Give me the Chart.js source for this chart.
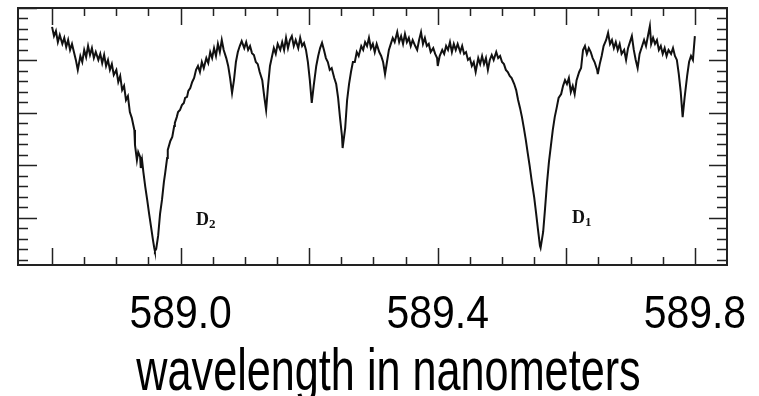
<!DOCTYPE html>
<html lang="en">
<head>
  <meta charset="UTF-8" />
  <title>Sodium D lines</title>
  <script src="https://cdn.jsdelivr.net/npm/chart.js"></script>
  <style>
    html, body { margin: 0; padding: 0; background: #fff; }
    #spectrum { display: block; }
  </style>
</head>
<body>
  <canvas id="spectrum" width="759" height="396"></canvas>

  <script>
    // wavelength (nm) and relative intensity
    const wavelengthNm = [
      588.800, 588.803, 588.806, 588.809, 588.812, 588.816, 588.819, 588.822, 588.825, 588.828,
      588.831, 588.834, 588.837, 588.840, 588.844, 588.847, 588.850, 588.853, 588.856, 588.859,
      588.862, 588.865, 588.868, 588.872, 588.875, 588.878, 588.881, 588.884, 588.887, 588.890,
      588.893, 588.896, 588.900, 588.903, 588.906, 588.909, 588.912, 588.915, 588.918, 588.921,
      588.924, 588.928, 588.929, 588.932, 588.934, 588.937, 588.938, 588.940, 588.942, 588.945,
      588.948, 588.951, 588.954, 588.957, 588.959, 588.960, 588.962, 588.965, 588.968, 588.971,
      588.974, 588.976, 588.979, 588.980, 588.984, 588.987, 588.990, 588.991, 588.994, 588.996,
      588.999, 589.002, 589.005, 589.007, 589.010, 589.012, 589.015, 589.018, 589.021, 589.024,
      589.027, 589.030, 589.033, 589.036, 589.040, 589.043, 589.046, 589.049, 589.052, 589.055,
      589.058, 589.061, 589.064, 589.067, 589.071, 589.074, 589.077, 589.080, 589.083, 589.086,
      589.089, 589.092, 589.095, 589.099, 589.102, 589.105, 589.108, 589.111, 589.114, 589.117,
      589.120, 589.123, 589.127, 589.130, 589.133, 589.136, 589.139, 589.142, 589.145, 589.148,
      589.151, 589.155, 589.158, 589.161, 589.164, 589.167, 589.170, 589.173, 589.176, 589.179,
      589.183, 589.186, 589.189, 589.192, 589.195, 589.198, 589.201, 589.204, 589.207, 589.211,
      589.214, 589.217, 589.220, 589.223, 589.226, 589.229, 589.232, 589.235, 589.239, 589.242,
      589.245, 589.248, 589.251, 589.252, 589.256, 589.259, 589.262, 589.265, 589.268, 589.271,
      589.274, 589.277, 589.281, 589.284, 589.287, 589.290, 589.293, 589.296, 589.299, 589.302,
      589.305, 589.309, 589.312, 589.315, 589.318, 589.321, 589.324, 589.327, 589.330, 589.333,
      589.337, 589.340, 589.343, 589.346, 589.349, 589.352, 589.355, 589.358, 589.361, 589.365,
      589.368, 589.371, 589.374, 589.377, 589.380, 589.383, 589.386, 589.389, 589.393, 589.396,
      589.399, 589.400, 589.403, 589.407, 589.410, 589.413, 589.416, 589.419, 589.422, 589.425,
      589.428, 589.431, 589.435, 589.438, 589.441, 589.444, 589.447, 589.450, 589.453, 589.456,
      589.459, 589.463, 589.466, 589.469, 589.472, 589.475, 589.478, 589.481, 589.484, 589.487,
      589.491, 589.494, 589.497, 589.500, 589.503, 589.506, 589.509, 589.512, 589.515, 589.519,
      589.522, 589.525, 589.528, 589.531, 589.534, 589.537, 589.540, 589.543, 589.546, 589.550,
      589.553, 589.556, 589.559, 589.560, 589.564, 589.567, 589.570, 589.573, 589.576, 589.579,
      589.582, 589.585, 589.588, 589.592, 589.595, 589.598, 589.601, 589.604, 589.607, 589.610,
      589.613, 589.616, 589.620, 589.623, 589.626, 589.629, 589.632, 589.635, 589.638, 589.641,
      589.644, 589.648, 589.649, 589.652, 589.655, 589.658, 589.662, 589.665, 589.668, 589.671,
      589.674, 589.677, 589.680, 589.683, 589.686, 589.690, 589.693, 589.696, 589.699, 589.702,
      589.705, 589.708, 589.711, 589.714, 589.718, 589.721, 589.724, 589.727, 589.730, 589.732,
      589.735, 589.738, 589.741, 589.744, 589.747, 589.750, 589.753, 589.756, 589.759, 589.763,
      589.766, 589.769, 589.772, 589.775, 589.778, 589.781, 589.784, 589.788, 589.791, 589.794,
      589.797, 589.800
    ];

    const relIntensity = [
      0.928, 0.893, 0.912, 0.870, 0.897, 0.863, 0.886, 0.851, 0.878, 0.840,
      0.863, 0.832, 0.802, 0.764, 0.817, 0.794, 0.840, 0.813, 0.855, 0.821,
      0.847, 0.809, 0.832, 0.802, 0.825, 0.790, 0.821, 0.779, 0.802, 0.764,
      0.786, 0.745, 0.764, 0.718, 0.741, 0.687, 0.703, 0.649, 0.664, 0.603,
      0.581, 0.535, 0.478, 0.420, 0.451, 0.432, 0.390, 0.420, 0.375, 0.318,
      0.268, 0.215, 0.165, 0.115, 0.085, 0.073, 0.081, 0.131, 0.215, 0.268,
      0.337, 0.371, 0.428, 0.459, 0.493, 0.508, 0.550, 0.562, 0.584, 0.603,
      0.611, 0.630, 0.638, 0.657, 0.661, 0.684, 0.695, 0.718, 0.733, 0.764,
      0.779, 0.756, 0.794, 0.771, 0.809, 0.790, 0.832, 0.809, 0.847, 0.817,
      0.863, 0.832, 0.878, 0.840, 0.809, 0.779, 0.733, 0.676, 0.725, 0.794,
      0.832, 0.855, 0.874, 0.847, 0.870, 0.840, 0.855, 0.828, 0.821, 0.794,
      0.786, 0.756, 0.725, 0.664, 0.611, 0.703, 0.779, 0.813, 0.847, 0.825,
      0.863, 0.840, 0.870, 0.840, 0.886, 0.847, 0.878, 0.893, 0.855, 0.878,
      0.847, 0.886, 0.855, 0.867, 0.840, 0.794, 0.725, 0.638, 0.703, 0.779,
      0.817, 0.847, 0.867, 0.840, 0.809, 0.794, 0.764, 0.771, 0.733, 0.710,
      0.657, 0.581, 0.512, 0.466, 0.542, 0.649, 0.710, 0.756, 0.794, 0.794,
      0.832, 0.817, 0.855, 0.840, 0.870, 0.855, 0.886, 0.847, 0.863, 0.832,
      0.863, 0.832, 0.817, 0.794, 0.748, 0.794, 0.840, 0.863, 0.886, 0.870,
      0.908, 0.870, 0.893, 0.863, 0.901, 0.870, 0.886, 0.855, 0.878, 0.855,
      0.840, 0.878, 0.908, 0.863, 0.886, 0.855, 0.863, 0.832, 0.847, 0.825,
      0.809, 0.779, 0.817, 0.840, 0.825, 0.855, 0.840, 0.870, 0.832, 0.863,
      0.840, 0.863, 0.832, 0.855, 0.825, 0.832, 0.802, 0.809, 0.779, 0.794,
      0.756, 0.809, 0.786, 0.817, 0.786, 0.809, 0.764, 0.802, 0.821, 0.802,
      0.832, 0.809, 0.817, 0.794, 0.786, 0.764, 0.756, 0.741, 0.733, 0.710,
      0.687, 0.649, 0.619, 0.584, 0.542, 0.497, 0.447, 0.398, 0.344, 0.279,
      0.218, 0.154, 0.093, 0.085, 0.146, 0.237, 0.333, 0.413, 0.474, 0.535,
      0.584, 0.619, 0.657, 0.672, 0.703, 0.725, 0.710, 0.733, 0.680, 0.703,
      0.672, 0.725, 0.756, 0.771, 0.840, 0.855, 0.825, 0.847, 0.832, 0.809,
      0.794, 0.764, 0.748, 0.786, 0.817, 0.855, 0.878, 0.905, 0.863, 0.878,
      0.847, 0.870, 0.840, 0.863, 0.825, 0.840, 0.802, 0.847, 0.870, 0.893,
      0.840, 0.802, 0.771, 0.825, 0.855, 0.878, 0.855, 0.893, 0.931, 0.863,
      0.886, 0.863, 0.878, 0.840, 0.855, 0.825, 0.847, 0.817, 0.840, 0.825,
      0.847, 0.817, 0.802, 0.748, 0.680, 0.584, 0.657, 0.741, 0.794, 0.817,
      0.802, 0.893
    ];

    // axis ticks
    const xLabelTicks = [589.0, 589.4, 589.8];
    const xMajorTicks = [588.8, 589.0, 589.2, 589.4, 589.6, 589.8];
    const xMinorTicks = [588.85, 588.9, 588.95, 589.05, 589.1, 589.15, 589.25, 589.3,
                         589.35, 589.45, 589.5, 589.55, 589.65, 589.7, 589.75];
    const yMajorTicks = [0.2, 0.4, 0.6, 0.8, 1.0];
    const yMinorTicks = [0.04, 0.08, 0.12, 0.16, 0.24, 0.28, 0.32, 0.36, 0.44, 0.48,
                         0.52, 0.56, 0.64, 0.68, 0.72, 0.76, 0.84, 0.88, 0.92, 0.96];

    // line identifications
    const lineNames = ['D', 'D'];
    const lineSubs = ['2', '1'];
    const lineLabelNm = [589.024, 589.609];
    const lineLabelLevel = [0.171, 0.181];

    const axisTitle = 'wavelength in nanometers';
    const sansFamily = '"Liberation Sans", Arial, sans-serif';

    // text squeezed sideways, the scan's lettering is narrow
    function narrowText(ctx, text, x, y, sx) {
      ctx.save();
      ctx.translate(x, y);
      ctx.scale(sx, 1);
      ctx.fillText(text, 0, 0);
      ctx.restore();
    }

    // inward ticks on all four sides, the frame, labels and axis title
    const framePlugin = {
      id: 'frame',
      afterDatasetsDraw(chart) {
        const { ctx, chartArea: a, scales: { x, y } } = chart;
        ctx.save();
        ctx.strokeStyle = '#222';
        ctx.lineWidth = 1.5;

        const tickX = (v, len) => {
          const px = Math.round(x.getPixelForValue(v)) + 0.5;
          ctx.beginPath();
          ctx.moveTo(px, a.bottom);
          ctx.lineTo(px, a.bottom - len);
          ctx.moveTo(px, a.top);
          ctx.lineTo(px, a.top + len);
          ctx.stroke();
        };
        const tickY = (v, lenL, lenR) => {
          const py = Math.round(y.getPixelForValue(v)) + 0.5;
          ctx.beginPath();
          ctx.moveTo(a.left, py);
          ctx.lineTo(a.left + lenL, py);
          ctx.moveTo(a.right, py);
          ctx.lineTo(a.right - lenR, py);
          ctx.stroke();
        };
        xMajorTicks.forEach(v => tickX(v, 17));
        xMinorTicks.forEach(v => tickX(v, 8));
        yMajorTicks.forEach(v => tickY(v, 19, 18));
        yMinorTicks.forEach(v => tickY(v, 10, 10));

        ctx.lineWidth = 2;
        ctx.strokeRect(a.left, a.top, a.right - a.left, a.bottom - a.top);

        // D2 / D1 labels
        ctx.fillStyle = '#111';
        ctx.textBaseline = 'alphabetic';
        ctx.textAlign = 'left';
        lineNames.forEach((name, i) => {
          const px = x.getPixelForValue(lineLabelNm[i]);
          const py = y.getPixelForValue(lineLabelLevel[i]);
          ctx.font = 'bold 18px "Liberation Serif", "Times New Roman", serif';
          ctx.fillText(name, px, py);
          const w = ctx.measureText(name).width;
          ctx.font = 'bold 13px "Liberation Serif", "Times New Roman", serif';
          ctx.fillText(lineSubs[i], px + w, py + 3);
        });

        // tick labels under the frame
        ctx.fillStyle = '#000';
        ctx.textAlign = 'center';
        ctx.font = '46px ' + sansFamily;
        xLabelTicks.forEach(v => {
          narrowText(ctx, v.toFixed(1), x.getPixelForValue(v), a.bottom + 63, 0.89);
        });

        // axis title
        ctx.font = '60px ' + sansFamily;
        narrowText(ctx, axisTitle, (a.left + a.right) / 2 + 16, a.bottom + 125, 0.72);
        ctx.restore();
      }
    };

    const points = wavelengthNm.map((w, i) => ({ x: w, y: relIntensity[i] }));

    new Chart(document.getElementById('spectrum'), {
      type: 'line',
      data: {
        datasets: [{
          data: points,
          borderColor: '#111',
          borderWidth: 2,
          pointRadius: 0,
          tension: 0,
          fill: false
        }]
      },
      options: {
        responsive: false,
        animation: false,
        devicePixelRatio: 1,
        layout: { padding: { left: 18, right: 32, top: 8, bottom: 131 } },
        plugins: { legend: { display: false }, tooltip: { enabled: false } },
        scales: {
          x: {
            type: 'linear',
            display: false,
            min: 588.747,
            max: 589.85
          },
          y: {
            display: false,
            min: 0.02,
            max: 1.0
          }
        }
      },
      plugins: [framePlugin]
    });
  </script>
</body>
</html>
